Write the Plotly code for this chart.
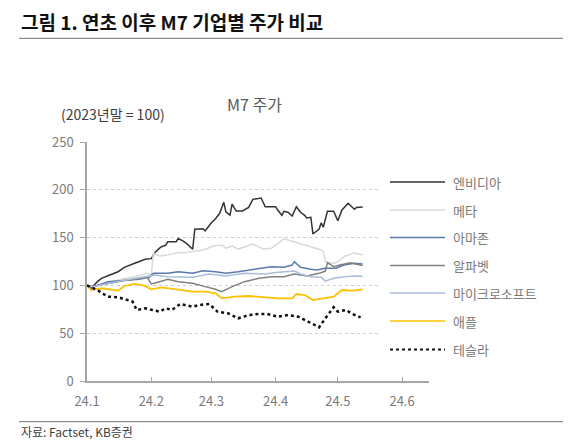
import plotly.graph_objects as go

# 2023년말 = 100 기준 지수
nvda_dates = ["2024-01-01", "2024-01-03", "2024-01-06", "2024-01-08", "2024-01-12", "2024-01-16",
              "2024-01-19", "2024-01-21", "2024-01-24", "2024-01-26", "2024-01-29", "2024-02-01",
              "2024-02-03", "2024-02-05", "2024-02-06", "2024-02-08", "2024-02-09", "2024-02-13",
              "2024-02-14", "2024-02-16", "2024-02-18", "2024-02-21", "2024-02-22", "2024-02-26",
              "2024-02-27", "2024-03-01", "2024-03-03", "2024-03-05", "2024-03-07", "2024-03-08",
              "2024-03-10", "2024-03-11", "2024-03-13", "2024-03-16", "2024-03-19", "2024-03-21",
              "2024-03-25", "2024-03-27", "2024-04-01", "2024-04-02", "2024-04-04", "2024-04-05",
              "2024-04-07", "2024-04-09", "2024-04-11", "2024-04-13", "2024-04-15", "2024-04-16",
              "2024-04-18", "2024-04-19", "2024-04-22", "2024-04-23", "2024-04-24", "2024-04-26",
              "2024-04-29", "2024-05-01", "2024-05-03", "2024-05-06", "2024-05-09", "2024-05-10",
              "2024-05-13"]
nvda = [100, 97, 103.9, 107.4, 110.9, 114.3, 118.9, 120.3, 123.1, 124.8, 127.3, 128,
        135, 139, 140.5, 142, 145.7, 145.7, 149, 146.8, 144, 137.8, 158.7, 159.3,
        157, 165.6, 169.8, 175.4, 186.9, 177, 173.6, 185, 177.8, 177.8, 181.6, 190,
        191.4, 182.3, 182.3, 178.9, 173.3, 177.5, 176.5, 172.6, 182.3, 176.5, 173.3, 170.5,
        171.2, 153.8, 159, 165.6, 160.8, 177.5, 177.5, 167.7, 178.9, 185.9, 179.6, 181.6,
        182]

meta_dates = ["2024-01-01", "2024-01-04", "2024-01-16", "2024-01-24", "2024-01-30", "2024-02-01",
              "2024-02-02", "2024-02-05", "2024-02-09", "2024-02-14", "2024-02-17", "2024-02-21",
              "2024-02-26", "2024-03-02", "2024-03-06", "2024-03-08", "2024-03-11", "2024-03-14",
              "2024-03-21", "2024-03-26", "2024-03-30", "2024-04-05", "2024-04-10", "2024-04-15",
              "2024-04-18", "2024-04-23", "2024-04-24", "2024-04-25", "2024-04-29", "2024-05-01",
              "2024-05-04", "2024-05-09", "2024-05-13"]
meta = [100, 98.7, 105.6, 109, 112.6, 111, 133.6, 130.7, 131.8, 134.2, 134.2, 135.3,
        137, 141.2, 142.3, 138.8, 141.2, 138, 143.3, 138, 138.8, 148.8, 145.7, 142.3,
        140.5, 137, 135.3, 124.8, 123, 124.8, 130, 134.2, 131.8]

amzn_dates = ["2024-01-01", "2024-01-04", "2024-01-11", "2024-01-19", "2024-01-26", "2024-01-31",
              "2024-02-02", "2024-02-09", "2024-02-14", "2024-02-21", "2024-02-26", "2024-03-03",
              "2024-03-08", "2024-03-14", "2024-03-22", "2024-03-30", "2024-04-05", "2024-04-09",
              "2024-04-10", "2024-04-13", "2024-04-18", "2024-04-21", "2024-04-25", "2024-04-30",
              "2024-05-04", "2024-05-09", "2024-05-13"]
amzn = [100, 98, 103.9, 105.6, 106.4, 108.5, 112.6, 112.6, 114.3, 112.6, 115.4, 114.3,
        112.6, 114.3, 116.8, 119.6, 118.9, 121.3, 124.8, 118.9, 116.8, 116.1, 117.9, 117.9,
        121.3, 123.1, 122.4]

googl_dates = ["2024-01-01", "2024-01-04", "2024-01-19", "2024-01-26", "2024-01-30", "2024-02-01",
               "2024-02-05", "2024-02-09", "2024-02-14", "2024-02-21", "2024-02-27", "2024-03-03",
               "2024-03-06", "2024-03-11", "2024-03-17", "2024-03-24", "2024-03-30", "2024-04-05",
               "2024-04-10", "2024-04-16", "2024-04-22", "2024-04-25", "2024-04-26", "2024-04-29",
               "2024-05-02", "2024-05-07", "2024-05-13"]
googl = [100, 99, 105, 107, 109, 101.5, 103.9, 106.4, 103.9, 102.2, 98.7, 95.9,
         93.4, 98.7, 103.9, 107.4, 109, 109, 112, 109.8, 112.6, 115, 123.8, 119.6,
         121.3, 123.8, 120.8]

msft_dates = ["2024-01-01", "2024-01-04", "2024-01-19", "2024-01-31", "2024-02-03", "2024-02-09",
              "2024-02-21", "2024-02-29", "2024-03-08", "2024-03-17", "2024-03-27", "2024-04-01",
              "2024-04-10", "2024-04-13", "2024-04-18", "2024-04-23", "2024-04-25", "2024-04-29",
              "2024-05-04", "2024-05-09", "2024-05-13"]
msft = [100, 98.5, 105.5, 109.8, 110.9, 109, 108.5, 112, 109.8, 112.6, 112, 113.5,
        115, 112, 109, 108.5, 104.5, 107.4, 109, 109.8, 109.5]

aapl_dates = ["2024-01-01", "2024-01-03", "2024-01-08", "2024-01-16", "2024-01-19", "2024-01-24",
              "2024-01-29", "2024-02-01", "2024-02-06", "2024-02-13", "2024-02-21", "2024-02-27",
              "2024-03-03", "2024-03-06", "2024-03-12", "2024-03-19", "2024-03-26", "2024-04-02",
              "2024-04-09", "2024-04-11", "2024-04-15", "2024-04-19", "2024-04-24", "2024-04-29",
              "2024-05-03", "2024-05-08", "2024-05-13"]
aapl = [100, 95.2, 97, 94.5, 99.4, 101.5, 99.4, 95.9, 98, 95.9, 93.4, 93.4,
        91.7, 86.5, 88.2, 88.9, 87.6, 86.5, 86.5, 91, 89.9, 84.7, 86.5, 88.2,
        95.2, 94.5, 95.9]

tsla_dates = ["2024-01-01", "2024-01-06", "2024-01-11", "2024-01-16", "2024-01-23", "2024-01-25",
              "2024-01-29", "2024-02-05", "2024-02-08", "2024-02-11", "2024-02-15", "2024-02-21",
              "2024-02-24", "2024-02-29", "2024-03-04", "2024-03-09", "2024-03-14", "2024-03-19",
              "2024-03-24", "2024-03-28", "2024-04-02", "2024-04-07", "2024-04-12", "2024-04-17",
              "2024-04-22", "2024-04-25", "2024-04-29", "2024-05-01", "2024-05-05", "2024-05-08",
              "2024-05-12"]
tsla = [100, 95.2, 88.2, 87.6, 83, 74.3, 76, 72.5, 76, 74.3, 80.5, 77.7,
        79.5, 80.5, 72.5, 70.8, 65.6, 69, 70.1, 70.1, 67.3, 69, 67.3, 62,
        56.2, 65.6, 77.1, 72.5, 74.3, 70.1, 66.6]

names = ["엔비디아", "메타", "아마존", "알파벳", "마이크로소프트", "애플", "테슬라"]
colors = ["#333333", "#d9d9d9", "#5a7aaa", "#808080", "#a9bddc", "#ffc000", "#111111"]
series = [(nvda_dates, nvda), (meta_dates, meta), (amzn_dates, amzn), (googl_dates, googl),
          (msft_dates, msft), (aapl_dates, aapl), (tsla_dates, tsla)]

tick_dates = ["2024-01-01", "2024-02-01", "2024-03-01", "2024-04-01", "2024-05-01", "2024-06-01"]
tick_text = ["24.1", "24.2", "24.3", "24.4", "24.5", "24.6"]

FONT = "Noto Sans CJK KR"
GRAY = "#7a7a7a"

# the page body has an 8px margin, so the figure is 8px smaller and all
# page-pixel positions below get shifted by OFF
OFF = 8
W, H = 580 - OFF, 441 - OFF
# plot area in page pixels: x 87..429, y 142..381
L, R, T, B = 87, 429, 142, 381


def px(x):
    return (x - L) / (R - L)


def py(y):
    return (B - y) / (B - T)


fig = go.Figure()
for (d, v), name, c in zip(series, names, colors):
    if name == "테슬라":
        line = dict(color=c, width=2.5, dash="dot")
    elif name == "애플":
        line = dict(color=c, width=1.8)
    else:
        line = dict(color=c, width=1.5)
    fig.add_trace(go.Scatter(x=d, y=v, mode="lines", name=name, line=line))

shapes = []
annotations = []

# white box behind the legend (hides gridlines there)
shapes.append(dict(type="rect", xref="paper", yref="paper", x0=px(378), x1=px(440),
                   y0=py(362), y1=py(168), fillcolor="white", line=dict(width=0), layer="above"))

leg_y = [182, 210, 237.5, 265.5, 293, 321, 349.5]
for name, c, yy in zip(names, colors, leg_y):
    dash = "dot" if name == "테슬라" else "solid"
    w = 2.2 if name == "테슬라" else 1.5
    shapes.append(dict(type="line", xref="paper", yref="paper", x0=px(390), x1=px(445),
                       y0=py(yy), y1=py(yy), line=dict(color=c, width=w, dash=dash)))
    annotations.append(dict(text=name, xref="paper", yref="paper", x=px(451), y=py(yy),
                            xanchor="left", yanchor="middle", showarrow=False,
                            font=dict(family=FONT, size=13, color=GRAY)))

# title rule and source rule
shapes.append(dict(type="line", xref="paper", yref="paper", x0=px(19), x1=px(563),
                   y0=py(38.3), y1=py(38.3), line=dict(color="#8c8c8c", width=1.3)))
shapes.append(dict(type="line", xref="paper", yref="paper", x0=px(19), x1=px(563),
                   y0=py(421.7), y1=py(421.7), line=dict(color="#8c8c8c", width=1.3)))

annotations.append(dict(text="<b>그림 1. 연초 이후 M7 기업별 주가 비교</b>", xref="paper", yref="paper",
                        x=px(19), y=py(21.5), xanchor="left", yanchor="middle", showarrow=False,
                        font=dict(family=FONT, size=19, color="#111111")))
annotations.append(dict(text="M7 주가", xref="paper", yref="paper", x=px(254), y=py(104),
                        xanchor="center", yanchor="middle", showarrow=False,
                        font=dict(family=FONT, size=16, color="#595959")))
annotations.append(dict(text="(2023년말 = 100)", xref="paper", yref="paper", x=px(59), y=py(114),
                        xanchor="left", yanchor="middle", showarrow=False,
                        font=dict(family=FONT, size=14, color="#404040")))
annotations.append(dict(text="자료: Factset, KB증권", xref="paper", yref="paper", x=px(19), y=py(431.5),
                        xanchor="left", yanchor="middle", showarrow=False,
                        font=dict(family=FONT, size=12, color="#404040")))

fig.update_layout(
    width=W, height=H,
    margin=dict(l=L - OFF, r=W - (R - OFF), t=T - OFF, b=H - (B - OFF), pad=0),
    paper_bgcolor="white", plot_bgcolor="white",
    showlegend=False,
    shapes=shapes, annotations=annotations,
    font=dict(family=FONT, size=13, color=GRAY),
)
fig.update_xaxes(
    type="date", range=["2024-01-01", "2024-06-14"],
    tickvals=tick_dates, ticktext=tick_text,
    showline=True, linecolor="#a6a6a6", linewidth=1.5,
    ticks="inside", ticklen=4, tickcolor="#a6a6a6",
    ticklabelstandoff=8,
    showgrid=False, zeroline=False,
    tickfont=dict(family=FONT, size=13, color=GRAY),
)
fig.update_yaxes(
    range=[0, 250], tickvals=[0, 50, 100, 150, 200, 250],
    showline=True, linecolor="#a6a6a6", linewidth=1.5,
    ticks="outside", ticklen=5, tickcolor="#a6a6a6",
    ticklabelstandoff=4,
    showgrid=True, gridcolor="#d0d0d0", griddash="dot", gridwidth=1,
    zeroline=False,
    tickfont=dict(family=FONT, size=13, color=GRAY),
)

fig.write_html("out.html")
